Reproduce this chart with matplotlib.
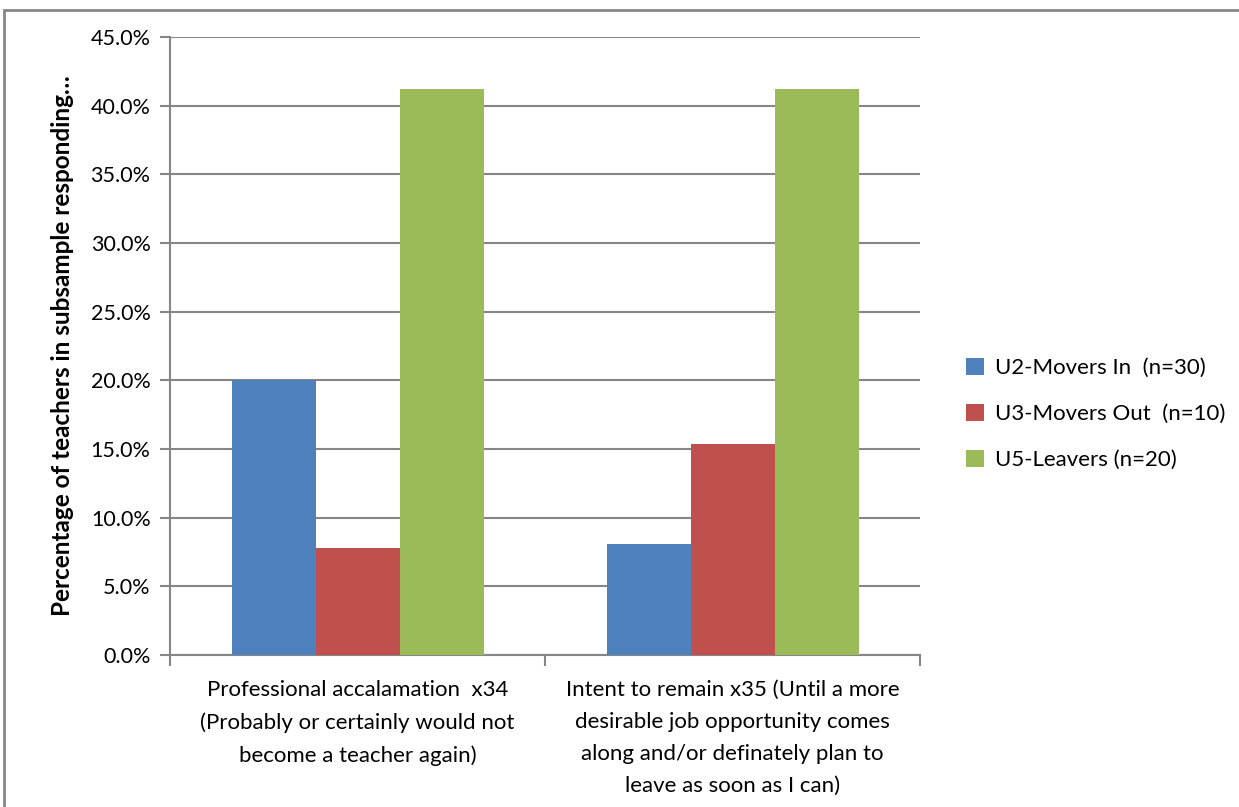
import numpy as np
import matplotlib.pyplot as plt
from matplotlib.patches import Rectangle

categories = ["Professional accalamation  x34\n(Probably or certainly would not\nbecome a teacher again)",
              "Intent to remain x35 (Until a more\ndesirable job opportunity comes\nalong and/or definately plan to\nleave as soon as I can)"]
series = ["U2-Movers In  (n=30)", "U3-Movers Out  (n=10)", "U5-Leavers (n=20)"]
movers_in = [20.0, 8.1]
movers_out = [7.8, 15.4]
leavers = [41.2, 41.2]
colors = ["#4F81BD", "#C0504D", "#9BBB59"]
yticks = [0, 5, 10, 15, 20, 25, 30, 35, 40, 45]

plt.rcParams['font.family'] = ['Lato', 'DejaVu Sans']
grid_c = "#868686"

fig = plt.figure(figsize=(12.39, 8.07), dpi=100)
ax = fig.add_axes([170/1239, 1-655/807, 750/1239, 618/807])

# outer chart border
fig.patches.append(Rectangle((4/1239, -0.1), 1.2, 1.1 - 10/807, transform=fig.transFigure,
                             fill=False, edgecolor=grid_c, lw=2))

x = np.arange(len(categories))
w = 0.224
for i, (vals, name) in enumerate(zip([movers_in, movers_out, leavers], series)):
    ax.bar(x + (i - 1) * w, vals, w, color=colors[i], label=name, zorder=3)

ax.set_xlim(-0.5, 1.5)
ax.set_ylim(0, 45)
ax.set_yticks(yticks)
ax.set_yticklabels([f"{v:.1f}%" for v in yticks], fontsize=15.5)
ax.yaxis.grid(True, color=grid_c, lw=1.5, zorder=0)
ax.set_xticks([-0.5, 0.5, 1.5])
ax.set_xticklabels([])
ax.set_xticks(x, minor=True)
ax.set_xticklabels(categories, minor=True, fontsize=16, linespacing=1.75)
ax.tick_params(axis='x', which='minor', length=0, pad=18)
ax.tick_params(axis='x', which='major', length=8, color=grid_c, width=1.5)
ax.tick_params(axis='y', length=7, color=grid_c, width=1.5, pad=7)
for s in ['top', 'right']:
    ax.spines[s].set_visible(False)
for s in ['left', 'bottom']:
    ax.spines[s].set_color(grid_c)
    ax.spines[s].set_linewidth(1.5)

ax.set_ylabel("Percentage of teachers in subsample responding…", fontsize=17.5,
              fontweight='bold', labelpad=12)

ax.legend(loc='center left', bbox_to_anchor=(1.035, 0.39), frameon=False, fontsize=16,
          handlelength=0.8, handleheight=0.8, handletextpad=0.5, labelspacing=1.15)

fig.savefig("out.png", dpi=100)
